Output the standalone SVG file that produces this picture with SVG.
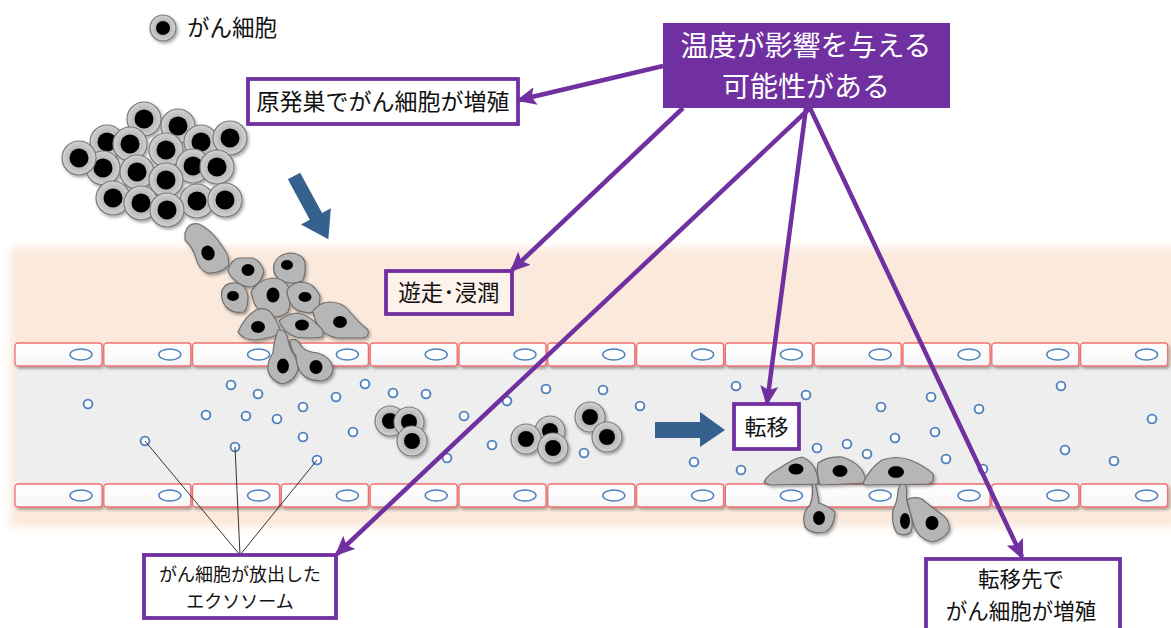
<svg xmlns="http://www.w3.org/2000/svg" xmlns:xlink="http://www.w3.org/1999/xlink" width="1171" height="628" viewBox="0 0 1171 628">
<style>
.jp{font-family:"Noto Sans CJK JP","Noto Sans",sans-serif;fill:#111;}
.wt{fill:#fff;}
.box{fill:#fff;stroke:#7030a0;stroke-width:3.8;}
.pl{fill:none;stroke:#7030a0;stroke-width:4.5;marker-end:url(#ah);}
.thin{fill:none;stroke:#333;stroke-width:1;}
.ex{fill:#fff;stroke:#4f81bd;stroke-width:1.9;}
.wall{fill:url(#wg);stroke:#f07070;stroke-width:1.3;}
.wn{fill:#fff;stroke:#4f81bd;stroke-width:1.5;}
.cell{fill:url(#cg);stroke:#7a7a7a;stroke-width:1.2;}
.mc{fill:#b6b6b6;stroke:#6e6e6e;stroke-width:1.2;}
.nuc{fill:#050505;}
.blue{fill:#35618f;}
</style>
<defs>
<radialGradient id="cg" cx="0.5" cy="0.5" r="0.5">
<stop offset="0.55" stop-color="#b8b8b8"/>
<stop offset="0.85" stop-color="#c9c9c9"/>
<stop offset="1" stop-color="#d4d4d4"/>
</radialGradient>
<linearGradient id="wg" x1="0" y1="0" x2="0" y2="1">
<stop offset="0" stop-color="#ffffff"/>
<stop offset="1" stop-color="#f6f6f6"/>
</linearGradient>
<filter id="sh" x="-30%" y="-30%" width="160%" height="160%">
<feDropShadow dx="1.5" dy="2" stdDeviation="1.5" flood-color="#000" flood-opacity="0.35"/>
</filter>
<filter id="blur" x="-5%" y="-10%" width="110%" height="120%">
<feGaussianBlur stdDeviation="4"/>
</filter>
<marker id="ah" markerUnits="userSpaceOnUse" markerWidth="20" markerHeight="18" refX="17" refY="9" orient="auto" viewBox="0 0 20 18">
<path d="M0,0 L20,9 L0,18 L4,9 z" fill="#7030a0"/>
</marker>
<g id="wc"><rect class="wall" x="0" y="0" width="87" height="23" rx="3"/><ellipse class="wn" cx="66" cy="11.5" rx="11" ry="5.5"/></g>
<g id="pc"><circle class="cell" r="17"/><circle class="nuc" r="9.5"/></g>
<g id="bc"><circle class="cell" r="15"/><circle class="nuc" r="8"/></g>
<circle id="ex" class="ex" r="4.4"/>
</defs>

<rect width="1171" height="628" fill="#fff"/>

<g id="tissue">
<rect x="10" y="247" width="1170" height="280" fill="#fbe9dc" filter="url(#blur)"/>
</g>

<g id="vessel">
<rect x="15" y="366" width="1156" height="118" fill="#eeeeee"/>
<g id="wall-top" filter="url(#sh)">
<use xlink:href="#wc" x="15" y="343"/><use xlink:href="#wc" x="103.8" y="343"/><use xlink:href="#wc" x="192.6" y="343"/><use xlink:href="#wc" x="281.4" y="343"/><use xlink:href="#wc" x="370.2" y="343"/><use xlink:href="#wc" x="459" y="343"/><use xlink:href="#wc" x="547.8" y="343"/><use xlink:href="#wc" x="636.6" y="343"/><use xlink:href="#wc" x="725.4" y="343"/><use xlink:href="#wc" x="814.2" y="343"/><use xlink:href="#wc" x="903" y="343"/><use xlink:href="#wc" x="991.8" y="343"/><use xlink:href="#wc" x="1080.6" y="343"/>
</g>
<g id="wall-bottom" filter="url(#sh)">
<use xlink:href="#wc" x="15" y="484"/><use xlink:href="#wc" x="103.8" y="484"/><use xlink:href="#wc" x="192.6" y="484"/><use xlink:href="#wc" x="281.4" y="484"/><use xlink:href="#wc" x="370.2" y="484"/><use xlink:href="#wc" x="459" y="484"/><use xlink:href="#wc" x="547.8" y="484"/><use xlink:href="#wc" x="636.6" y="484"/><use xlink:href="#wc" x="725.4" y="484"/><use xlink:href="#wc" x="814.2" y="484"/><use xlink:href="#wc" x="903" y="484"/><use xlink:href="#wc" x="991.8" y="484"/><use xlink:href="#wc" x="1080.6" y="484"/>
</g>
</g>

<g id="exosomes">
<use xlink:href="#ex" x="88" y="404"/><use xlink:href="#ex" x="231" y="385"/><use xlink:href="#ex" x="258" y="394"/><use xlink:href="#ex" x="206" y="415"/><use xlink:href="#ex" x="246" y="416"/><use xlink:href="#ex" x="277" y="419"/><use xlink:href="#ex" x="303" y="407"/><use xlink:href="#ex" x="303" y="437"/><use xlink:href="#ex" x="336" y="397"/><use xlink:href="#ex" x="365" y="384"/><use xlink:href="#ex" x="353" y="432"/><use xlink:href="#ex" x="145" y="441"/><use xlink:href="#ex" x="235" y="447"/><use xlink:href="#ex" x="317" y="460"/>
<use xlink:href="#ex" x="393" y="393"/><use xlink:href="#ex" x="426" y="394"/><use xlink:href="#ex" x="464" y="416"/><use xlink:href="#ex" x="507" y="401"/><use xlink:href="#ex" x="546" y="389"/><use xlink:href="#ex" x="603" y="390"/><use xlink:href="#ex" x="640" y="406"/><use xlink:href="#ex" x="492" y="445"/><use xlink:href="#ex" x="447" y="458"/><use xlink:href="#ex" x="584" y="453"/><use xlink:href="#ex" x="694" y="462"/><use xlink:href="#ex" x="741" y="470"/>
<use xlink:href="#ex" x="736" y="386"/><use xlink:href="#ex" x="806" y="395"/><use xlink:href="#ex" x="881" y="407"/><use xlink:href="#ex" x="931" y="397"/><use xlink:href="#ex" x="979" y="409"/><use xlink:href="#ex" x="1061" y="386"/><use xlink:href="#ex" x="1152" y="419"/><use xlink:href="#ex" x="817" y="448"/><use xlink:href="#ex" x="847" y="444"/><use xlink:href="#ex" x="867" y="454"/><use xlink:href="#ex" x="895" y="438"/><use xlink:href="#ex" x="935" y="432"/><use xlink:href="#ex" x="946" y="459"/><use xlink:href="#ex" x="983" y="469"/><use xlink:href="#ex" x="1065" y="450"/><use xlink:href="#ex" x="1114" y="461"/>
</g>

<g id="legend">
<g filter="url(#sh)"><circle class="cell" cx="163" cy="28" r="13"/><circle class="nuc" cx="163" cy="28" r="7"/></g>
<text class="jp" x="187" y="36" font-size="22.5">がん細胞</text>
</g>

<g id="primary-tumor" filter="url(#sh)">
<use xlink:href="#pc" x="144" y="119"/><use xlink:href="#pc" x="107" y="142"/><use xlink:href="#pc" x="178" y="126"/><use xlink:href="#pc" x="201" y="142"/><use xlink:href="#pc" x="230" y="138"/><use xlink:href="#pc" x="130" y="144"/><use xlink:href="#pc" x="166" y="150"/><use xlink:href="#pc" x="103" y="168"/><use xlink:href="#pc" x="193" y="166"/><use xlink:href="#pc" x="217" y="167"/><use xlink:href="#pc" x="137" y="172"/><use xlink:href="#pc" x="79" y="158"/><use xlink:href="#pc" x="166" y="180"/><use xlink:href="#pc" x="113" y="198"/><use xlink:href="#pc" x="141" y="203"/><use xlink:href="#pc" x="197" y="201"/><use xlink:href="#pc" x="225" y="200"/><use xlink:href="#pc" x="167" y="210"/>
</g>

<g id="arrow-invade">
<polygon class="blue" transform="translate(294,176) rotate(61.5)" points="0,-7 46,-7 46,-17 72,0 46,17 46,7 0,7"/>
</g>

<g id="migrating-cells" filter="url(#sh)">
<path class="mc" d="M185,233 Q188,222 199,224 Q212,230 222,246 Q231,258 228,266 Q220,274 207,273 Q198,268 196,258 Q192,246 185,240 Z"/>
<ellipse class="nuc" cx="208" cy="253" rx="6.5" ry="7.5" transform="rotate(-20 208 253)"/>
<path class="mc" d="M228,270 Q232,258 240,258 L253,258 Q262,262 264,272 Q261,284 252,287 Q241,287 236,281 Q229,276 228,270 Z"/>
<ellipse class="nuc" cx="248" cy="270" rx="6.5" ry="6"/>
<path class="mc" d="M274,264 Q278,254 290,253 Q302,253 305,262 Q306,276 302,281 Q292,285 282,281 Q272,276 274,264 Z"/>
<ellipse class="nuc" cx="287" cy="265" rx="6" ry="5"/>
<path class="mc" d="M222,290 Q226,282 236,283 Q246,284 248,296 Q248,308 244,312 Q233,314 226,307 Q220,299 222,290 Z"/>
<ellipse class="nuc" cx="233" cy="296" rx="6" ry="5"/>
<path class="mc" d="M251,292 Q258,280 272,278 Q285,278 289,288 Q292,302 288,312 Q281,318 270,317 Q258,311 254,303 Z"/>
<ellipse class="nuc" cx="273" cy="295" rx="6.5" ry="7.5"/>
<path class="mc" d="M287,290 Q292,282 303,282 Q314,283 320,296 Q320,309 314,312 Q302,314 294,308 Q287,300 287,290 Z"/>
<ellipse class="nuc" cx="305" cy="297" rx="6.5" ry="5"/>
<path class="mc" d="M313,311 Q320,302 330,302 Q343,302 350,312 Q358,322 368,330 Q370,337 362,338 L337,338 Q324,335 320,328 Q314,320 313,311 Z"/>
<ellipse class="nuc" cx="340" cy="322" rx="7" ry="6"/>
<path class="mc" d="M238,332 Q245,316 256,310 Q266,306 272,314 Q279,324 281,333 Q272,338 256,340 Q243,340 238,332 Z"/>
<ellipse class="nuc" cx="258" cy="327" rx="7" ry="6"/>
<path class="mc" d="M279,321 Q288,313 298,313 Q310,316 318,325 Q326,332 322,337 Q312,339 296,337 Q284,333 279,321 Z"/>
<ellipse class="nuc" cx="302" cy="325" rx="7" ry="5.5"/>
<path class="mc" d="M278,330 Q285,329 287,336 Q289,345 292,352 Q298,360 298,370 Q294,382 282,384 Q271,381 268,371 Q267,361 273,353 Q274,340 278,330 Z"/>
<ellipse class="nuc" cx="283" cy="366" rx="6" ry="7.5"/>
<path class="mc" d="M290,340 Q297,337 302,347 Q306,352 318,353 Q331,357 333,368 Q333,378 322,381 Q308,381 302,374 Q296,366 296,356 Q290,348 290,340 Z"/>
<ellipse class="nuc" cx="316" cy="367" rx="6.5" ry="7"/>
</g>

<g id="blood-cells" filter="url(#sh)">
<use xlink:href="#bc" x="390" y="421"/><use xlink:href="#bc" x="409" y="422"/><use xlink:href="#bc" x="412" y="441"/>
<use xlink:href="#bc" x="550" y="431"/><use xlink:href="#bc" x="526" y="439"/><use xlink:href="#bc" x="553" y="448"/>
<use xlink:href="#bc" x="590" y="417"/><use xlink:href="#bc" x="607" y="437"/>
</g>

<g id="arrow-flow">
<polygon class="blue" points="655,422 700,422 700,412 725,430 700,447 700,438 655,438"/>
</g>

<g id="metastasis-cells" filter="url(#sh)">
<path class="mc" d="M815,482 Q818,495 819,503 Q828,506 835,512 Q834,527 826,532 Q812,535 805,527 Q801,513 810,505 Q814,496 812,483 Z"/>
<ellipse class="nuc" cx="819" cy="518" rx="6" ry="7"/>
<path class="mc" d="M901,483 Q905,480 907,490 Q905,500 910,510 Q914,524 911,532 Q905,537 897,533 Q891,524 893,510 Q898,500 898,490 Z"/>
<ellipse class="nuc" cx="905" cy="521" rx="5" ry="8"/>
<path class="mc" d="M907,500 Q913,496 922,499 Q930,506 940,513 Q951,520 949,531 Q942,541 931,542 Q918,538 914,526 Q910,512 907,500 Z"/>
<ellipse class="nuc" cx="932" cy="523" rx="6.5" ry="7"/>
<path class="mc" d="M764,482 Q768,474 780,468 Q792,459 802,457 Q813,461 817,474 Q819,482 817,484 L770,485 Z"/>
<ellipse class="nuc" cx="796" cy="469" rx="7.5" ry="5.5"/>
<path class="mc" d="M818,463 Q828,456 842,457 Q855,461 862,470 Q867,480 866,483 L820,485 Q816,472 818,463 Z"/>
<ellipse class="nuc" cx="840" cy="471" rx="7.5" ry="6"/>
<path class="mc" d="M863,483 Q870,468 882,460 Q896,455 910,460 Q925,466 933,474 Q935,483 928,484 L865,485 Z"/>
<ellipse class="nuc" cx="896" cy="472" rx="8" ry="6"/>
</g>

<g id="connectors">
<line class="thin" x1="145" y1="441" x2="240" y2="555"/>
<line class="thin" x1="235" y1="447" x2="240" y2="555"/>
<line class="thin" x1="317" y1="460" x2="240" y2="555"/>
<line class="pl" x1="663" y1="66" x2="519" y2="100"/>
<line class="pl" x1="683" y1="108" x2="512" y2="270"/>
<line class="pl" x1="806" y1="108" x2="767" y2="403"/>
<line class="pl" x1="810" y1="108" x2="337" y2="554"/>
<line class="pl" x1="810" y1="108" x2="1022" y2="557"/>
</g>

<g id="node-temp">
<rect x="663" y="23" width="287" height="85" fill="#7030a0"/>
<text class="jp wt" x="806" y="56" font-size="28" text-anchor="middle">温度が影響を与える</text>
<text class="jp wt" x="806" y="97" font-size="28" text-anchor="middle">可能性がある</text>
</g>

<g id="node-primary">
<rect class="box" x="248" y="79" width="270" height="45"/>
<text class="jp" x="383" y="110" font-size="23" text-anchor="middle">原発巣でがん細胞が増殖</text>
</g>

<g id="node-invasion">
<rect class="box" x="386" y="271" width="126" height="43" style="fill:#fdf3ec"/>
<text class="jp" x="449" y="301" font-size="22.5" text-anchor="middle">遊走･浸潤</text>
</g>

<g id="node-metastasis">
<rect class="box" x="734" y="404" width="65" height="45"/>
<text class="jp" x="766.5" y="435" font-size="22" text-anchor="middle">転移</text>
</g>

<g id="node-exosome">
<rect class="box" x="144" y="555" width="192" height="63"/>
<text class="jp" x="240" y="581" font-size="18" text-anchor="middle">がん細胞が放出した</text>
<text class="jp" x="240" y="608" font-size="18" text-anchor="middle">エクソソーム</text>
</g>

<g id="node-secondary">
<rect class="box" x="926" y="559" width="194" height="72"/>
<text class="jp" x="1021" y="587" font-size="21.5" text-anchor="middle">転移先で</text>
<text class="jp" x="1021" y="619" font-size="21.5" text-anchor="middle">がん細胞が増殖</text>
</g>
</svg>
